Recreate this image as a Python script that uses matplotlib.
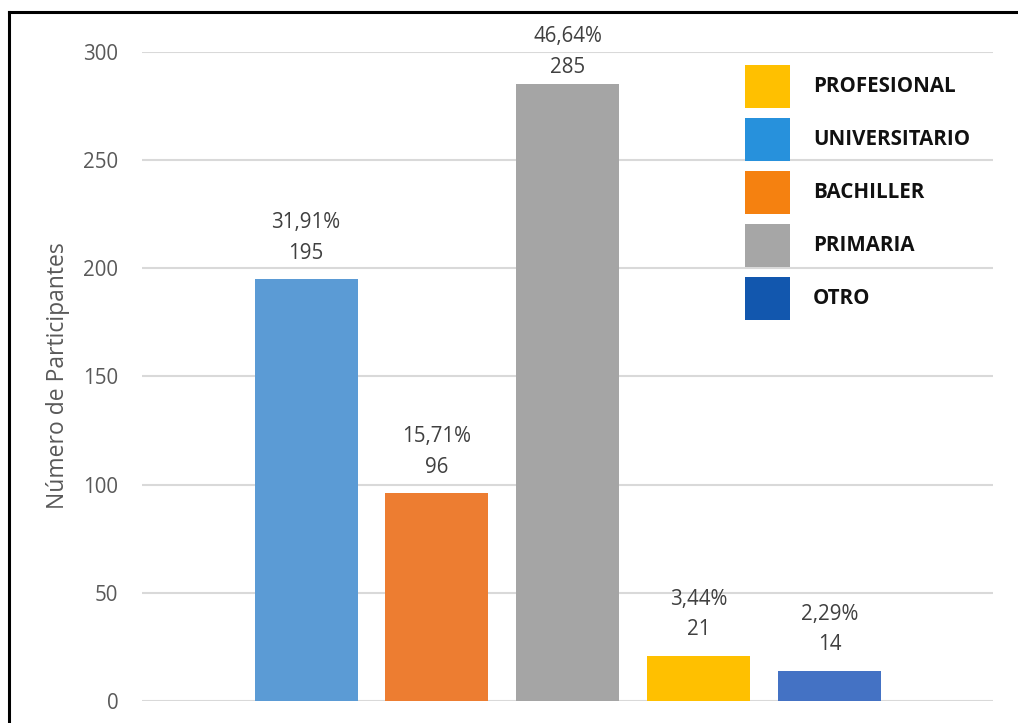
import matplotlib
matplotlib.use("Agg")
import matplotlib.pyplot as plt
from matplotlib.lines import Line2D
from matplotlib.patches import Rectangle

# Education level of participants
categories = ["UNIVERSITARIO", "BACHILLER", "PRIMARIA", "PROFESIONAL", "OTRO"]
counts = [195, 96, 285, 21, 14]
percent_labels = ["31,91%", "15,71%", "46,64%", "3,44%", "2,29%"]
bar_colors = ["#5B9BD5", "#ED7D31", "#A5A5A5", "#FFC000", "#4472C4"]

legend_labels = ["PROFESIONAL", "UNIVERSITARIO", "BACHILLER", "PRIMARIA", "OTRO"]
legend_colors = ["#FFC000", "#2791DC", "#F58110", "#A6A6A6", "#1257AE"]

y_ticks = [0, 50, 100, 150, 200, 250, 300]
y_label = "Número de Participantes"

W, H = 1018, 723
fig = plt.figure(figsize=(W / 100, H / 100), dpi=100)
fig.patch.set_facecolor("white")

ax = fig.add_axes([142 / W, 1 - 701 / H, (993 - 142) / W, (701 - 52) / H])
x = list(range(len(categories)))
ax.bar(x, counts, width=0.787, color=bar_colors, zorder=3)

ax.set_xlim(-1.253, 5.248)
ax.set_ylim(0, 300)
ax.set_yticks(y_ticks)
ax.set_xticks([])
ax.grid(axis="y", color="#D9D9D9", linewidth=1.5, zorder=0)
for s in ax.spines.values():
    s.set_visible(False)
ax.tick_params(axis="y", length=0, pad=17, labelsize=14.8, labelcolor="#595959")
for lbl in ax.get_yticklabels():
    lbl.set_fontfamily("Open Sans")
ax.set_ylabel(y_label, fontsize=16.5, color="#595959", family="Open Sans")
ax.yaxis.set_label_coords(-0.085, 0.501)

# Data labels: percentage and count above each bar
# (the tallest bar's label sits a little lower to stay inside the frame)
ymax = max(counts)
for xi, c, p in zip(x, counts, percent_labels):
    off = 5 if c == ymax else 11
    ax.annotate(f"{p}\n{c}", (xi, c), xytext=(0, off), textcoords="offset points",
                ha="center", va="bottom", fontsize=14.8, color="#404040",
                family="Open Sans", linespacing=1.6, clip_on=False)

# Legend drawn as coloured squares with bold labels
top0 = 65
step = 53
for i, (lab, col) in enumerate(zip(legend_labels, legend_colors)):
    y_top = top0 + i * step
    fig.patches.append(Rectangle((745 / W, 1 - (y_top + 43) / H), 45 / W, 43 / H,
                                 transform=fig.transFigure, facecolor=col,
                                 edgecolor="none"))
    fig.text(813 / W, 1 - (y_top + 21.5) / H, lab, fontsize=14.8,
             fontweight="bold", family="Open Sans", color="#111111",
             va="center", ha="left")

# Frame lines on the top and left edges
fig.lines.append(Line2D([9 / W, 1.0], [1 - 12 / H, 1 - 12 / H],
                        transform=fig.transFigure, color="black", linewidth=2.2))
fig.lines.append(Line2D([9 / W, 9 / W], [0.0, 1 - 12 / H],
                        transform=fig.transFigure, color="black", linewidth=2.2))

fig.savefig("out.png", dpi=100, facecolor="white")
